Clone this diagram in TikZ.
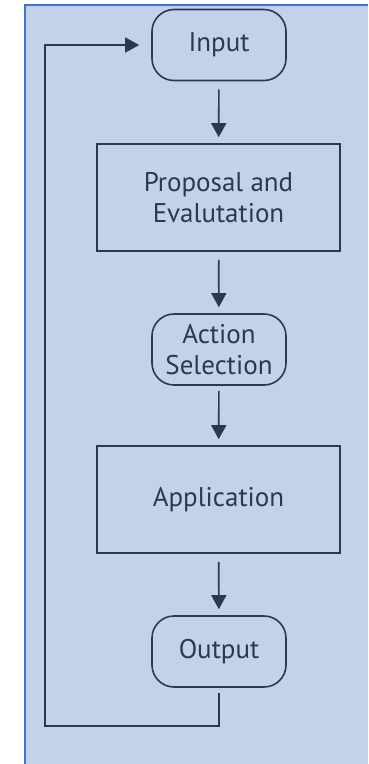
\documentclass[tikz,border=0pt]{standalone}
\usepackage{fontspec}
\setmainfont{PT Sans}
\usetikzlibrary{arrows.meta}
\definecolor{panel}{HTML}{C3D2EA}
\definecolor{frame}{HTML}{4472C4}
\definecolor{ink}{HTML}{2B3852}
\begin{document}
\begin{tikzpicture}[x=1pt,y=-1pt,
  every node/.style={text=ink,font=\fontsize{27}{31}\selectfont},
  base/.style={draw=ink,line width=1.6pt,inner sep=0pt,align=center},
  term/.style={base,rounded corners=22pt,minimum width=134pt,minimum height=71pt},
  proc/.style={base,minimum width=243pt,minimum height=107pt},
  flow/.style={draw=ink,line width=1.6pt,-{Triangle[width=15pt,length=14pt]}}]
  \useasboundingbox (0,0) rectangle (368,764);
  % panel with its blue frame on the left and top
  \fill[panel] (25,5) rectangle (368,764);
  \draw[frame,line width=2.5pt] (25,764) -- (25,5) -- (368,5);

  \node[term] (input)  at (219,45)    {Input};
  \node[proc] (prop)   at (218.5,197.5) {Proposal and\\Evalutation};
  \node[term] (action) at (219,349.5) {Action\\Selection};
  \node[proc] (app)    at (218.5,499.5) {Application};
  \node[term] (output) at (219,651.5) {Output};

  \draw[flow,shorten <=8pt,shorten >=6pt] (input) -- (prop);
  \draw[flow,shorten <=8pt,shorten >=6pt] (prop) -- (action);
  \draw[flow,shorten <=5pt,shorten >=6pt] (action) -- (app);
  \draw[flow,shorten <=8pt,shorten >=6pt] (app) -- (output);

  \coordinate (c1) at (45,726);
  \draw[flow,shorten <=5pt,shorten >=12pt]
    (output.south) |- (c1) |- (input.west);
\end{tikzpicture}
\end{document}
